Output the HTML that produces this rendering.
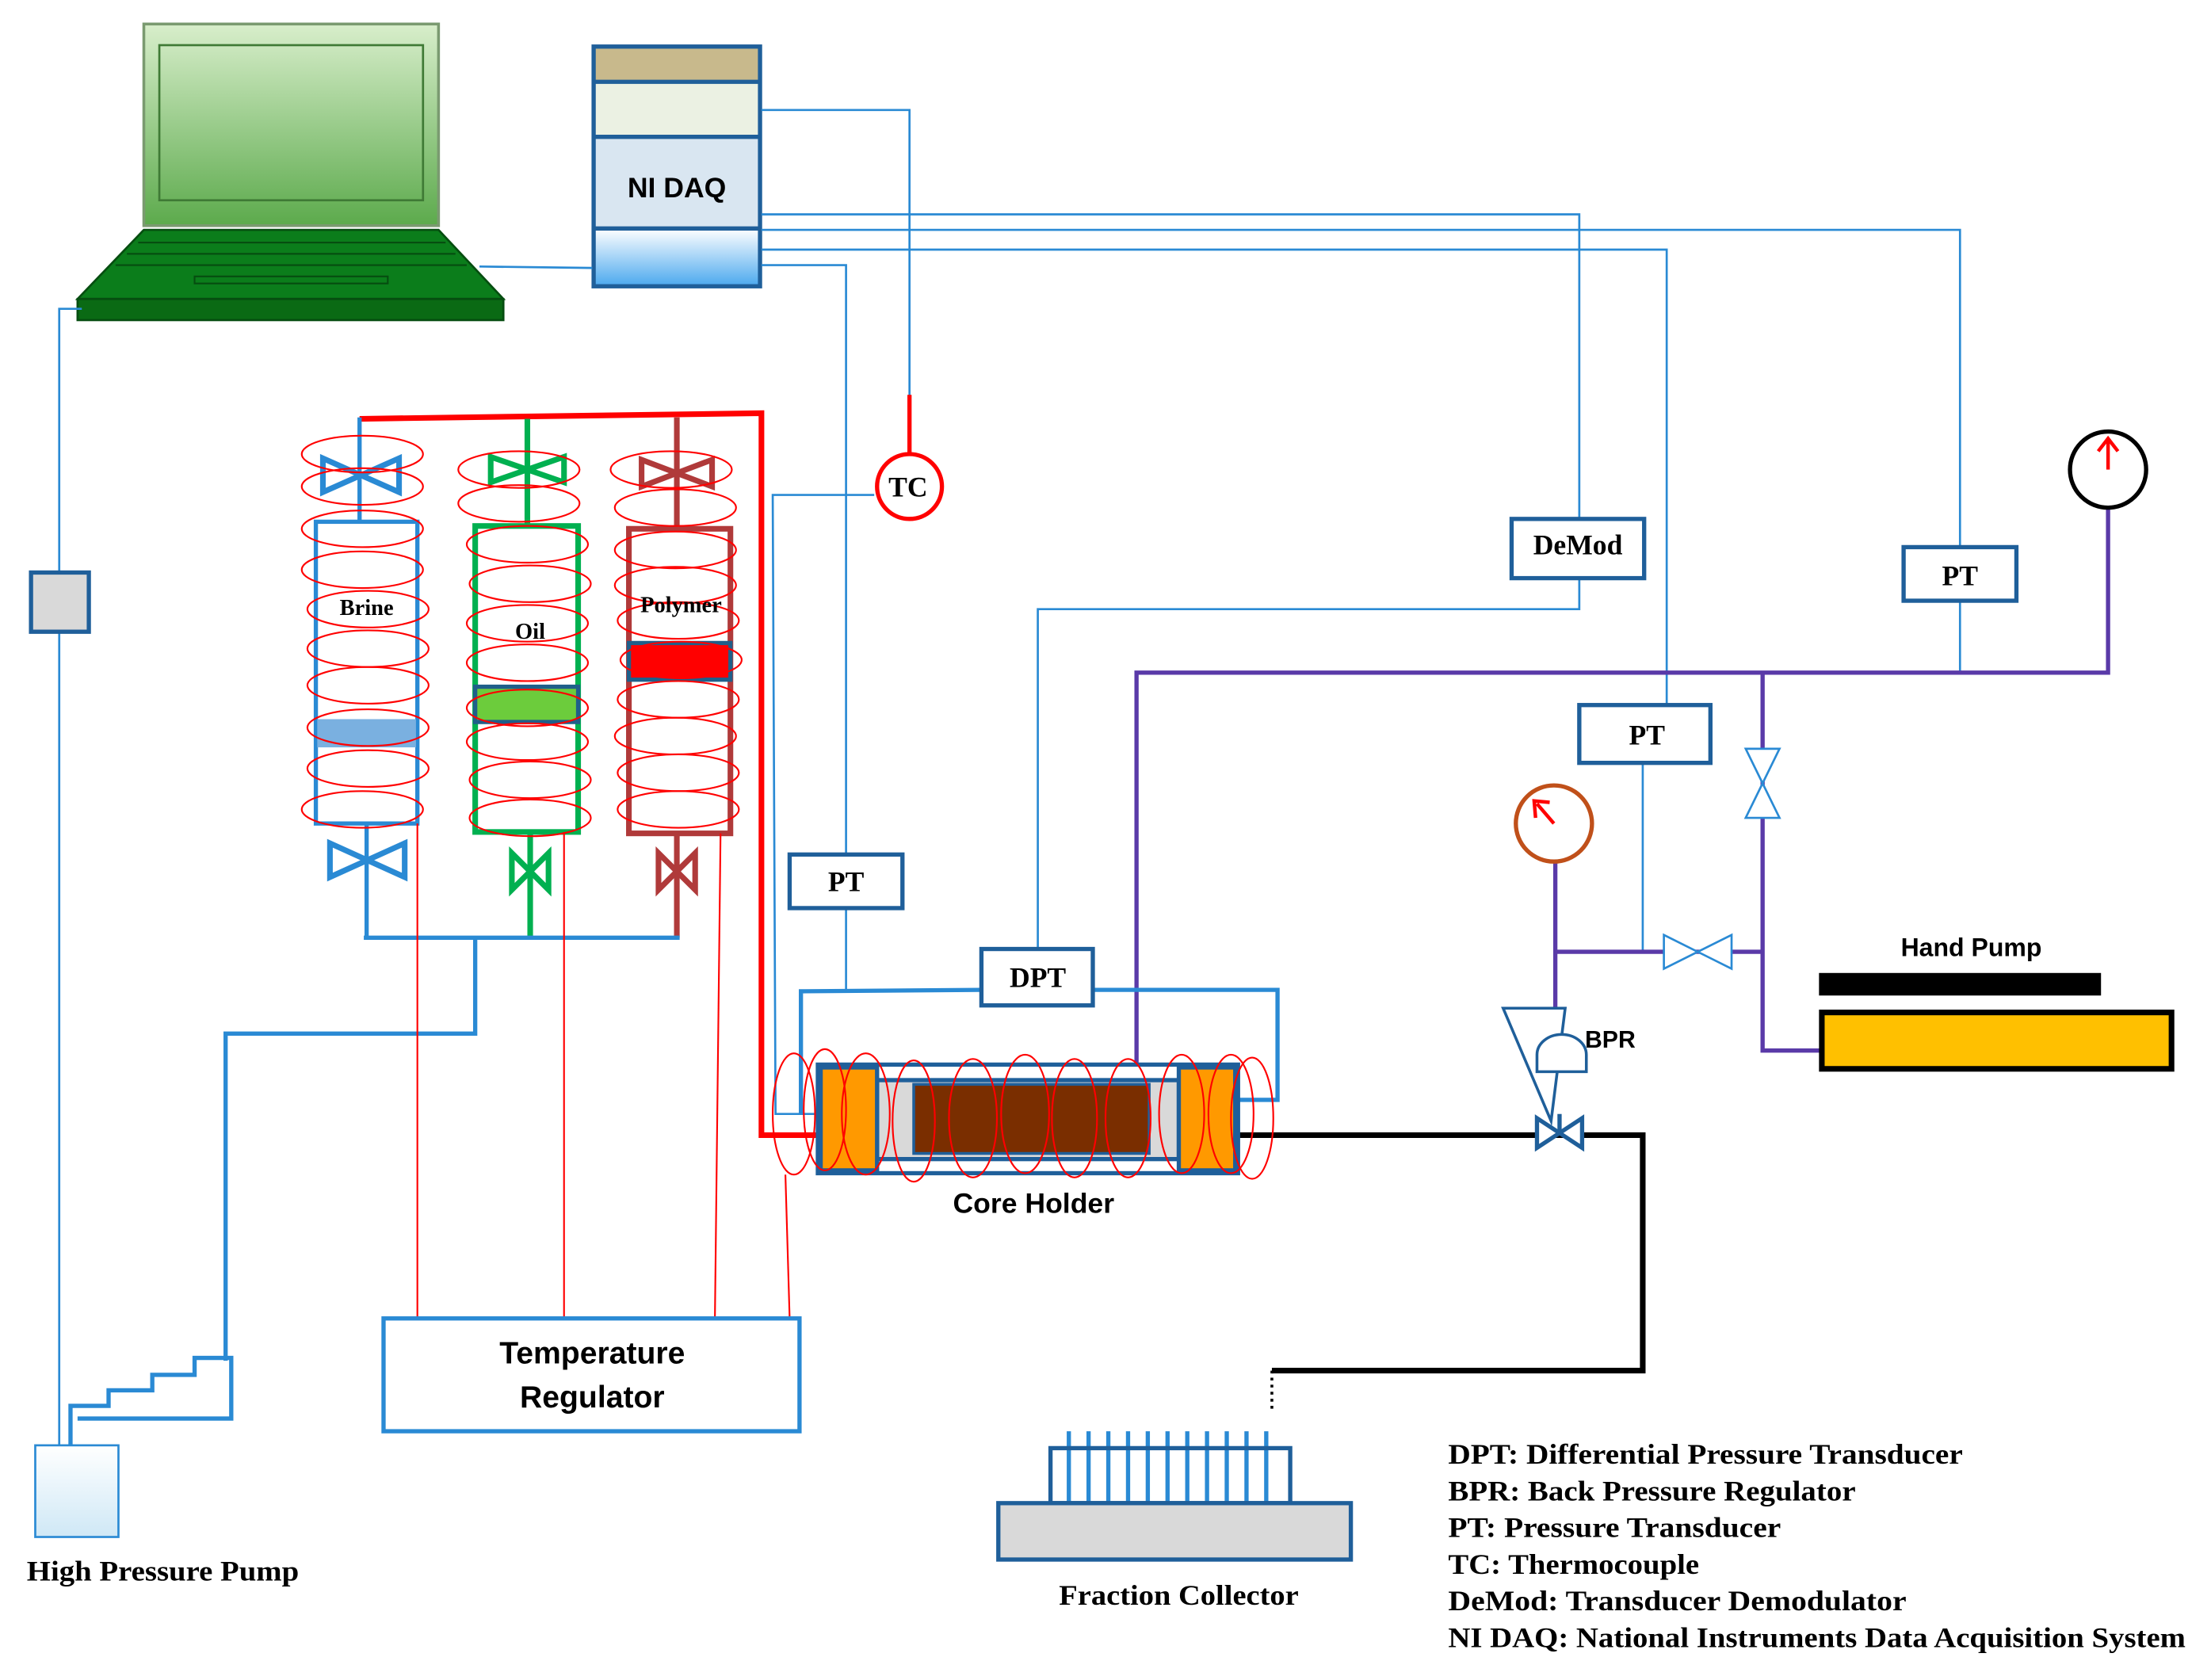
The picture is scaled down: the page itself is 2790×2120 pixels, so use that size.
<!DOCTYPE html>
<html><head><meta charset="utf-8"><style>
html,body{margin:0;padding:0;background:#fff;}
svg{display:block;}
.s{font-family:"Liberation Serif",serif;font-weight:bold;}
.a{font-family:"Liberation Sans",sans-serif;font-weight:bold;}
</style></head><body>
<svg width="2790" height="2120" viewBox="0 0 1568 1191.4" xmlns="http://www.w3.org/2000/svg">
<defs>
<linearGradient id="scr" x1="0" y1="0" x2="0" y2="1"><stop offset="0" stop-color="#d8eecb"/><stop offset="1" stop-color="#5caa4c"/></linearGradient>
<linearGradient id="daq" x1="0" y1="0" x2="0" y2="1"><stop offset="0" stop-color="#ffffff"/><stop offset="1" stop-color="#4aa8ee"/></linearGradient>
<linearGradient id="hp" x1="0" y1="0" x2="0" y2="1"><stop offset="0" stop-color="#ffffff"/><stop offset="1" stop-color="#cfe8f6"/></linearGradient>
</defs>
<!-- Laptop -->
<rect x="102" y="17" width="209" height="143" fill="url(#scr)" stroke="#7a9a70" stroke-width="2"/>
<rect x="113" y="32" width="187" height="110" fill="none" stroke="#3f7a35" stroke-width="1.5"/>
<polygon points="102,163 311,163 357,212 55,212" fill="#0b7d1b" stroke="#064d10" stroke-width="1.5"/>
<g stroke="#064d10" stroke-width="1.2">
<line x1="98" y1="172" x2="316" y2="172"/><line x1="90" y1="180" x2="323" y2="180"/><line x1="82" y1="188" x2="331" y2="188"/>
</g>
<rect x="138" y="196" width="137" height="5" fill="none" stroke="#064d10" stroke-width="1.2"/>
<rect x="55" y="212" width="302" height="15" fill="#0a6a14" stroke="#064d10" stroke-width="1.5"/>
<!-- NI DAQ -->
<rect x="421" y="33" width="118" height="25" fill="#c8b98c"/>
<rect x="421" y="58" width="118" height="39" fill="#ebf1e3"/>
<rect x="421" y="97" width="118" height="65" fill="#d9e6f1"/>
<rect x="421" y="162" width="118" height="41" fill="url(#daq)"/>
<g stroke="#1f5f9a" stroke-width="3" fill="none">
<rect x="421" y="33" width="118" height="170"/>
<line x1="421" y1="58" x2="539" y2="58"/><line x1="421" y1="97" x2="539" y2="97"/><line x1="421" y1="162" x2="539" y2="162"/>
</g>
<text x="480" y="140" class="a" font-size="20" text-anchor="middle">NI DAQ</text>
<!-- thin signal lines -->
<g stroke="#2a8ad4" stroke-width="1.5" fill="none">
<polyline points="540,78 645,78 645,282"/>
<polyline points="540,152 1120,152 1120,368"/>
<polyline points="540,163 1390,163 1390,388"/>
<polyline points="540,177 1182,177 1182,500"/>
<polyline points="540,188 600,188 600,606"/>
<line x1="600" y1="644" x2="600" y2="702"/>
<line x1="340" y1="189" x2="420" y2="190"/>
<polyline points="58,219 42,219 42,406"/>
<line x1="42" y1="448" x2="42" y2="1025"/>
<polyline points="620,351 548,351 550,790 580,790"/>
<polyline points="1120,410 1120,432 736,432 736,673"/>
<line x1="1390" y1="426" x2="1390" y2="477"/>
<line x1="1165" y1="541" x2="1165" y2="675"/>
</g>
<rect x="22" y="406" width="41" height="42" fill="#d9d9d9" stroke="#1f5f9a" stroke-width="3"/>
<!-- TC -->
<line x1="645" y1="280" x2="645" y2="322" stroke="#f00" stroke-width="3"/>
<circle cx="645" cy="345" r="23" fill="#fff" stroke="#f00" stroke-width="3"/>
<text x="644" y="352" class="s" font-size="20" text-anchor="middle">TC</text>
<!-- boxes -->
<g stroke="#1f5f9a" stroke-width="3" fill="#fff">
<rect x="1072" y="368" width="94" height="42"/>
<rect x="1350" y="388" width="80" height="38"/>
<rect x="1120" y="500" width="93" height="41"/>
<rect x="560" y="606" width="80" height="38"/>
</g>
<text x="1119" y="393" class="s" font-size="20" text-anchor="middle">DeMod</text>
<text x="1390" y="415" class="s" font-size="20" text-anchor="middle">PT</text>
<text x="1168" y="528" class="s" font-size="20" text-anchor="middle">PT</text>
<text x="600" y="632" class="s" font-size="20" text-anchor="middle">PT</text>
<!-- purple lines -->
<g stroke="#5a3aa8" stroke-width="3" fill="none">
<polyline points="806,755 806,477 1495,477 1495,360"/>
<polyline points="1250,477 1250,745 1292,745"/>
<line x1="1103" y1="675" x2="1250" y2="675"/>
<polyline points="1103,611 1103,717"/>
</g>
<!-- valves on purple -->
<polygon points="1238,531 1262,531 1238,580 1262,580" fill="#fff" stroke="#2a8ad4" stroke-width="1.5"/>
<polygon points="1180,663 1180,687 1228,663 1228,687" fill="#fff" stroke="#2a8ad4" stroke-width="1.5"/>
<!-- gauges -->
<circle cx="1495" cy="333" r="27" fill="#fff" stroke="#000" stroke-width="3"/>
<g stroke="#f00" stroke-width="2.5" fill="none"><line x1="1495" y1="333" x2="1495" y2="312"/><polyline points="1488,320 1495,311 1502,320"/></g>
<circle cx="1102" cy="584" r="27" fill="#fff" stroke="#c0501a" stroke-width="3"/>
<g stroke="#f00" stroke-width="2.5" fill="none"><line x1="1102" y1="584" x2="1090" y2="570"/><polyline points="1089,580 1088,568 1099,569"/></g>
<!-- hand pump -->
<rect x="1290" y="690" width="200" height="16" fill="#000"/>
<rect x="1292" y="718" width="248" height="40" fill="#ffc000" stroke="#000" stroke-width="4"/>
<text x="1398" y="678" class="a" font-size="18" text-anchor="middle">Hand Pump</text>
<!-- BPR -->
<polygon points="1066,715 1110,715 1100,795" fill="#fff" stroke="#1f5f9a" stroke-width="2"/>
<path d="M1090,760 L1090,748 A17,14 0 0 1 1125,748 L1125,760 Z" fill="#fff" stroke="#1f5f9a" stroke-width="2"/>
<text x="1124" y="743" class="a" font-size="17">BPR</text>
<!-- black outlet -->
<polyline points="878,805 1165,805 1165,972 902,972" fill="none" stroke="#000" stroke-width="4"/>
<line x1="902" y1="972" x2="902" y2="1000" stroke="#000" stroke-width="2" stroke-dasharray="2,3"/>
<polygon points="1090,793 1090,814 1122,793 1122,814" fill="#fff" stroke="#1f5f9a" stroke-width="3"/>
<line x1="1106" y1="790" x2="1106" y2="803" stroke="#1f5f9a" stroke-width="3"/>
<!-- fraction collector -->
<g stroke="#2a8ad4" stroke-width="3">
<line x1="758" y1="1015" x2="758" y2="1066"/><line x1="772" y1="1015" x2="772" y2="1066"/><line x1="786" y1="1015" x2="786" y2="1066"/><line x1="800" y1="1015" x2="800" y2="1066"/><line x1="814" y1="1015" x2="814" y2="1066"/><line x1="828" y1="1015" x2="828" y2="1066"/><line x1="842" y1="1015" x2="842" y2="1066"/><line x1="856" y1="1015" x2="856" y2="1066"/><line x1="870" y1="1015" x2="870" y2="1066"/><line x1="884" y1="1015" x2="884" y2="1066"/><line x1="898" y1="1015" x2="898" y2="1066"/>
</g>
<rect x="745" y="1027" width="170" height="39" fill="none" stroke="#1f5f9a" stroke-width="3"/>
<rect x="708" y="1066" width="250" height="40" fill="#d9d9d9" stroke="#1f5f9a" stroke-width="3"/>
<text x="751" y="1138" class="s" font-size="20" textLength="170" lengthAdjust="spacingAndGlyphs">Fraction Collector</text>
<!-- red heater line -->
<polyline points="255,297 540,293 540,805 580,805" fill="none" stroke="#f00" stroke-width="4"/>
<!-- DPT frame -->
<polyline points="696,702 568,703 568,790" fill="none" stroke="#2a8ad4" stroke-width="3"/>
<polyline points="775,702 906,702 906,780 878,780" fill="none" stroke="#2a8ad4" stroke-width="3"/>
<rect x="696" y="673" width="79" height="40" fill="#fff" stroke="#1f5f9a" stroke-width="3"/>
<text x="736" y="700" class="s" font-size="20" text-anchor="middle">DPT</text>
<!-- core holder -->
<rect x="580" y="755" width="298" height="77" fill="#fff" stroke="#1f5f9a" stroke-width="3"/>
<rect x="622" y="766" width="214" height="56" fill="#d9d9d9" stroke="#1f5f9a" stroke-width="3"/>
<rect x="648" y="769" width="167" height="49" fill="#7a2e00" stroke="#1f5f9a" stroke-width="2"/>
<rect x="582" y="757" width="40" height="73" fill="#ff9900" stroke="#1f5f9a" stroke-width="3"/>
<rect x="836" y="757" width="40" height="73" fill="#ff9900" stroke="#1f5f9a" stroke-width="3"/>
<g fill="none" stroke="#f00" stroke-width="1.2">
<ellipse cx="563" cy="790" rx="15" ry="43"/><ellipse cx="585" cy="787" rx="15" ry="43"/><ellipse cx="614" cy="790" rx="17" ry="43"/><ellipse cx="648" cy="795" rx="15" ry="43"/><ellipse cx="690" cy="793" rx="17" ry="42"/><ellipse cx="727" cy="790" rx="17" ry="42"/><ellipse cx="762" cy="793" rx="16" ry="42"/><ellipse cx="800" cy="793" rx="16" ry="42"/><ellipse cx="838" cy="790" rx="16" ry="42"/><ellipse cx="873" cy="790" rx="16" ry="42"/><ellipse cx="888" cy="793" rx="15" ry="43"/>
</g>
<text x="733" y="860" class="a" font-size="20" text-anchor="middle">Core Holder</text>
<!-- cylinders -->
<rect x="224" y="370" width="72" height="214" fill="#fff" stroke="#2a8ad4" stroke-width="3"/>
<rect x="225" y="510" width="70" height="20" fill="#7ab0e0"/>
<line x1="255" y1="296" x2="255" y2="370" stroke="#2a8ad4" stroke-width="3"/>
<polygon points="229,325 229,349 283,325 283,349" fill="none" stroke="#2a8ad4" stroke-width="4"/>
<line x1="260" y1="584" x2="260" y2="665" stroke="#2a8ad4" stroke-width="3"/>
<polygon points="234,598 234,622 287,598 287,622" fill="none" stroke="#2a8ad4" stroke-width="4"/>

<rect x="337" y="373" width="73" height="217" fill="#fff" stroke="#00b050" stroke-width="4"/>
<rect x="337" y="487" width="73" height="25" fill="#6ccc3c" stroke="#1f5f8a" stroke-width="3"/>
<line x1="374" y1="297" x2="374" y2="373" stroke="#00b050" stroke-width="4"/>
<polygon points="348,324 348,342 400,324 400,342" fill="none" stroke="#00b050" stroke-width="4"/>
<line x1="376" y1="590" x2="376" y2="665" stroke="#00b050" stroke-width="4"/>
<polygon points="363,605 363,631 389,605 389,631" fill="none" stroke="#00b050" stroke-width="4"/>

<rect x="446" y="375" width="72" height="216" fill="#fff" stroke="#b03a3a" stroke-width="4"/>
<rect x="446" y="456" width="72" height="26" fill="#f00" stroke="#1f5f8a" stroke-width="3"/>
<line x1="480" y1="296" x2="480" y2="375" stroke="#b03a3a" stroke-width="4"/>
<polygon points="455,326 455,345 505,326 505,345" fill="none" stroke="#b03a3a" stroke-width="4"/>
<line x1="480" y1="591" x2="480" y2="665" stroke="#b03a3a" stroke-width="4"/>
<polygon points="467,605 467,631 493,605 493,631" fill="none" stroke="#b03a3a" stroke-width="4"/>

<g fill="none" stroke="#f00" stroke-width="1.2">
<ellipse cx="257" cy="322" rx="43" ry="13"/><ellipse cx="257" cy="345" rx="43" ry="13"/><ellipse cx="257" cy="375" rx="43" ry="13"/><ellipse cx="257" cy="404" rx="43" ry="13"/><ellipse cx="261" cy="432" rx="43" ry="13"/><ellipse cx="261" cy="460" rx="43" ry="13"/><ellipse cx="261" cy="486" rx="43" ry="13"/><ellipse cx="261" cy="516" rx="43" ry="13"/><ellipse cx="261" cy="545" rx="43" ry="13"/><ellipse cx="257" cy="574" rx="43" ry="13"/>
<ellipse cx="368" cy="333" rx="43" ry="13"/><ellipse cx="368" cy="357" rx="43" ry="13"/><ellipse cx="374" cy="386" rx="43" ry="13"/><ellipse cx="376" cy="414" rx="43" ry="13"/><ellipse cx="374" cy="442" rx="43" ry="13"/><ellipse cx="374" cy="470" rx="43" ry="13"/><ellipse cx="374" cy="502" rx="43" ry="13"/><ellipse cx="374" cy="526" rx="43" ry="13"/><ellipse cx="376" cy="553" rx="43" ry="13"/><ellipse cx="376" cy="580" rx="43" ry="13"/>
<ellipse cx="476" cy="333" rx="43" ry="13"/><ellipse cx="479" cy="360" rx="43" ry="13"/><ellipse cx="479" cy="390" rx="43" ry="13"/><ellipse cx="479" cy="415" rx="43" ry="13"/><ellipse cx="481" cy="440" rx="43" ry="13"/><ellipse cx="483" cy="468" rx="43" ry="13"/><ellipse cx="481" cy="496" rx="43" ry="13"/><ellipse cx="479" cy="522" rx="43" ry="13"/><ellipse cx="481" cy="548" rx="43" ry="13"/><ellipse cx="481" cy="574" rx="43" ry="13"/>
</g>
<text x="260" y="436" class="s" font-size="16" text-anchor="middle">Brine</text>
<text x="376" y="453" class="s" font-size="16" text-anchor="middle">Oil</text>
<text x="483" y="434" class="s" font-size="16" text-anchor="middle">Polymer</text>
<!-- manifold -->
<g stroke="#2a8ad4" stroke-width="3" fill="none">
<line x1="258" y1="665" x2="482" y2="665"/>
<polyline points="337,665 337,733 160,733 160,965"/>
<polyline points="50,1025 50,997 77,997 77,986 108,986 108,975 138,975 138,963 164,963 164,1006 55,1006"/>
</g>
<!-- red thin lines to regulator -->
<g stroke="#f00" stroke-width="1.2">
<line x1="296" y1="584" x2="296" y2="935"/><line x1="400" y1="590" x2="400" y2="935"/><line x1="511" y1="591" x2="507" y2="935"/><line x1="557" y1="833" x2="560" y2="935"/>
</g>
<rect x="272" y="935" width="295" height="80" fill="#fff" stroke="#2a8ad4" stroke-width="3"/>
<text x="420" y="967" class="a" font-size="22" text-anchor="middle">Temperature</text>
<text x="420" y="998" class="a" font-size="22" text-anchor="middle">Regulator</text>
<!-- high pressure pump -->
<rect x="25" y="1025" width="59" height="65" fill="url(#hp)" stroke="#2a8ad4" stroke-width="1.5"/>
<text x="19" y="1121" class="s" font-size="20" textLength="193" lengthAdjust="spacingAndGlyphs">High Pressure Pump</text>
<!-- legend -->
<g class="s" font-size="20">
<text x="1027" y="1038" textLength="365" lengthAdjust="spacingAndGlyphs">DPT: Differential Pressure Transducer</text>
<text x="1027" y="1064" textLength="289" lengthAdjust="spacingAndGlyphs">BPR: Back Pressure Regulator</text>
<text x="1027" y="1090" textLength="236" lengthAdjust="spacingAndGlyphs">PT: Pressure Transducer</text>
<text x="1027" y="1116" textLength="178" lengthAdjust="spacingAndGlyphs">TC: Thermocouple</text>
<text x="1027" y="1142" textLength="325" lengthAdjust="spacingAndGlyphs">DeMod:  Transducer Demodulator</text>
<text x="1027" y="1168" textLength="523" lengthAdjust="spacingAndGlyphs">NI DAQ: National Instruments Data Acquisition System</text>
</g>
</svg>
</body></html>
